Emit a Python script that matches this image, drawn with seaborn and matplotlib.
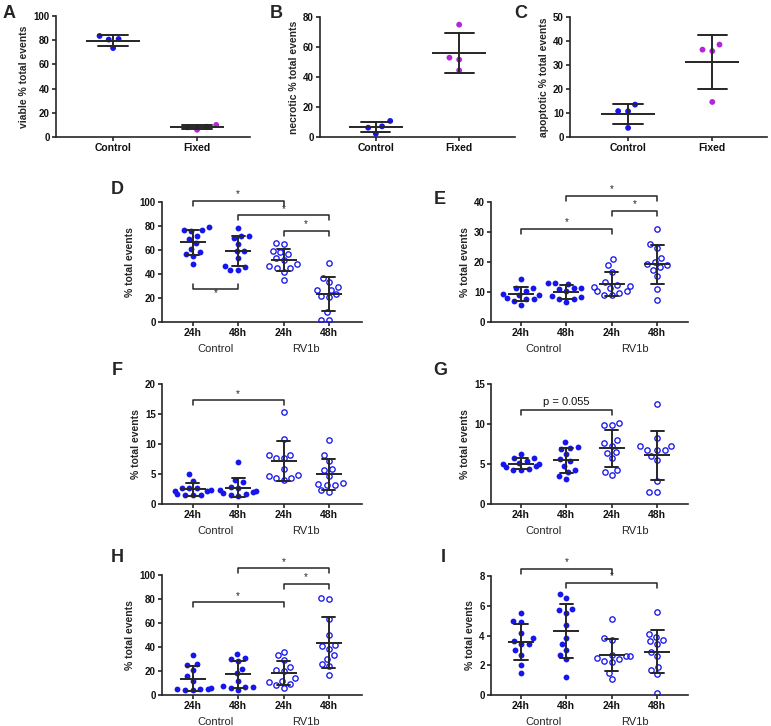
import numpy as np
import pandas as pd
import matplotlib
matplotlib.use("Agg")
import matplotlib.pyplot as plt
import matplotlib.transforms as mtransforms
from matplotlib.path import Path
import seaborn as sns

sns.set_theme(style="ticks")
plt.rcParams['font.family'] = ['Liberation Sans', 'DejaVu Sans']

W, H = 771, 726
BLUE = '#1515ee'
MAGENTA = '#b424d8'
DARK = '#262626'
CLEAR = (0, 0, 0, 0)

# ---------------- data ----------------
top_groups = ['Control', 'Fixed']
viable_control = [83.5, 80.5, 81.0, 73.5]
viable_fixed = [10.0, 6.0, 8.5, 8.0]
necrotic_control = [10.7, 7.1, 6.2, 2.2]
necrotic_fixed = [74.9, 52.9, 51.6, 44.4]
apoptotic_control = [13.5, 10.8, 10.7, 3.8]
apoptotic_fixed = [38.5, 36.4, 35.8, 14.6]

time_groups = ['Control 24h', 'Control 48h', 'RV1b 24h', 'RV1b 48h']
time_ticks = ['24h', '48h', '24h', '48h']

d_ctrl24 = [79, 77, 77, 76, 72, 69, 66, 61, 58, 57, 55, 48]
d_ctrl48 = [78, 72, 72, 70, 65, 59, 59, 53, 47, 46, 43, 43]
d_rv24 = [66, 65, 59, 58, 57, 53, 52, 48, 47, 45, 45, 42, 35]
d_rv48 = [49, 37, 33, 29, 27, 27, 23, 22, 21, 8, 2, 2]

e_ctrl24 = [14.3, 11.4, 11.2, 10.2, 9.2, 9.0, 9.0, 8.1, 7.8, 7.7, 6.9, 5.8]
e_ctrl48 = [13.1, 13.1, 12.8, 11.4, 11.2, 11.0, 10.4, 8.5, 8.3, 7.6, 7.5, 6.7]
e_rv24 = [21.0, 19.0, 16.8, 13.2, 12.2, 11.9, 11.5, 11.3, 10.3, 10.3, 9.6, 9.0, 8.9]
e_rv48 = [30.9, 26.0, 24.8, 21.3, 20.0, 19.2, 19.0, 18.2, 17.4, 15.4, 10.9, 7.3]

f_ctrl24 = [5.0, 3.9, 2.7, 2.6, 2.6, 2.3, 2.2, 2.1, 1.6, 1.5, 1.5, 1.5]
f_ctrl48 = [7.0, 4.0, 3.6, 2.9, 2.6, 2.4, 2.2, 2.0, 1.8, 1.6, 1.5, 1.3]
f_rv24 = [15.3, 10.8, 8.2, 8.2, 7.6, 7.6, 5.9, 4.8, 4.7, 4.4, 4.3, 4.0]
f_rv48 = [10.7, 8.1, 7.1, 5.8, 5.6, 4.6, 3.5, 3.4, 3.2, 3.2, 2.3, 2.0]

g_ctrl24 = [6.3, 5.8, 5.8, 5.4, 5.1, 5.0, 5.0, 4.7, 4.6, 4.4, 4.2, 4.3]
g_ctrl48 = [7.7, 7.1, 7.0, 6.9, 6.2, 5.6, 5.4, 4.8, 4.3, 4.0, 3.5, 3.1]
g_rv24 = [10.1, 9.9, 9.9, 8.0, 7.6, 7.3, 6.5, 6.4, 5.7, 4.3, 4.0, 3.6]
g_rv48 = [12.5, 8.3, 7.3, 7.2, 6.8, 6.7, 6.7, 6.0, 5.5, 2.9, 1.5, 1.5]

h_ctrl24 = [33, 26, 25, 21, 16, 12, 6, 5, 5, 4.5, 4, 5]
h_ctrl48 = [34, 31, 30, 28, 22, 18, 12, 7.5, 7, 6.5, 5.5, 4.5]
h_rv24 = [36, 33, 29, 23, 21, 20, 14, 12, 11, 9, 8, 6]
h_rv48 = [81, 80, 63, 50, 42, 41, 38, 33, 30, 26, 24, 17]

i_ctrl24 = [5.5, 5.0, 4.9, 4.2, 3.8, 3.6, 3.4, 3.4, 3.0, 2.7, 2.0, 1.5]
i_ctrl48 = [6.8, 6.5, 5.8, 5.7, 5.5, 4.7, 3.8, 3.4, 3.0, 2.7, 2.4, 1.2]
i_rv24 = [5.1, 3.8, 3.7, 2.7, 2.6, 2.6, 2.5, 2.4, 2.3, 2.2, 1.5, 1.05]
i_rv48 = [5.6, 4.1, 3.9, 3.7, 3.6, 3.4, 2.9, 2.6, 1.9, 1.7, 1.4, 0.15]

# significance brackets: (from group, to group, level, label, flipped)
d_brackets = [(0, 2, 101, '*', False), (1, 3, 89, '*', False),
              (2, 3, 76, '*', False), (0, 1, 27.8, '*', True)]
e_brackets = [(1, 3, 42.1, '*', False), (2, 3, 37.1, '*', False), (0, 2, 31.0, '*', False)]
f_brackets = [(0, 2, 17.3, '*', False)]
g_brackets = [(0, 2, 11.8, 'p = 0.055', False)]
h_brackets = [(1, 3, 105.6, '*', False), (2, 3, 92.5, '*', False), (0, 2, 77.2, '*', False)]
i_brackets = [(0, 2, 8.5, '*', False), (1, 3, 7.55, '*', False)]

# open-circle marker as a filled ring, so the swarm spacing can be widened
# with an invisible edge
RING = Path.make_compound_path(
    Path.unit_circle(),
    mtransforms.Affine2D().scale(0.6, -0.6).transform_path(Path.unit_circle()))

DOT = 4.2        # filled dot size (pt)
RING_SIZE = 4.8  # open circle outer size (pt)
SPREAD = 5.3     # swarm spacing (pt)

fig = plt.figure(figsize=(W / 100, H / 100), dpi=100)


def px_rect(left, top, right, bottom):
    return [left / W, 1 - bottom / H, (right - left) / W, (bottom - top) / H]


def long_df(groups, values):
    return pd.DataFrame({'group': np.repeat(groups, [len(v) for v in values]),
                         'value': np.concatenate(values)})


def style_axis(ax, ylim, yticks, xlim, ticklabels):
    ax.set_ylim(*ylim)
    ax.set_yticks(yticks)
    ax.set_xlim(*xlim)
    ax.set_xticks(range(len(ticklabels)))
    ax.set_xticklabels(ticklabels, fontweight='bold', fontsize=7.5)
    for lbl in ax.get_yticklabels():
        lbl.set_fontweight('bold')
        lbl.set_fontsize(7)
    sns.despine(ax=ax)
    for s in ['left', 'bottom']:
        ax.spines[s].set_linewidth(1.2)
        ax.spines[s].set_color(DARK)
    ax.tick_params(width=1.2, length=3, color=DARK, labelcolor='#111111', pad=1.5)
    ax.set_xlabel('')
    ax.grid(False)


def mean_sd(ax, df, order, width, capsize):
    sns.pointplot(data=df, x='group', y='value', order=order, errorbar='sd',
                  color=DARK, markers='_', markersize=width, markeredgewidth=1.4,
                  linestyle='none', capsize=capsize,
                  err_kws={'linewidth': 1.4, 'zorder': 5}, zorder=5, ax=ax)


def top_panel(rect, letter, lpos, control, fixed, ylabel, ylim, yticks, xlim):
    ax = fig.add_axes(px_rect(*rect))
    df = long_df(top_groups, [control, fixed])
    sns.swarmplot(data=df, x='group', y='value', order=top_groups, hue='group',
                  palette=[BLUE, MAGENTA], size=DOT, linewidth=SPREAD + 1.5 - DOT,
                  edgecolor=CLEAR, legend=False, ax=ax, zorder=3)
    mean_sd(ax, df, top_groups, 39, 0.35)
    style_axis(ax, ylim, yticks, xlim, top_groups)
    ax.set_ylabel(ylabel, fontweight='bold', fontsize=7.5, labelpad=3)
    fig.text(lpos[0] / W, 1 - lpos[1] / H, letter, fontsize=13, fontweight='bold',
             ha='center', va='center')
    return ax


def time_panel(rect, letter, lpos, series, ylim, yticks, xlim, brackets):
    ax = fig.add_axes(px_rect(*rect))
    df = long_df(time_groups, series)
    ctrl = df[df['group'].str.startswith('Control')]
    rv = df[df['group'].str.startswith('RV1b')]
    sns.swarmplot(data=ctrl, x='group', y='value', order=time_groups, color=BLUE,
                  size=DOT, linewidth=SPREAD - DOT, edgecolor=CLEAR, ax=ax, zorder=3)
    sns.swarmplot(data=rv, x='group', y='value', order=time_groups, color=BLUE,
                  marker=RING, size=RING_SIZE, linewidth=SPREAD - RING_SIZE,
                  edgecolor=CLEAR, ax=ax, zorder=3)
    mean_sd(ax, df, time_groups, 19, 0.29)
    style_axis(ax, ylim, yticks, xlim, time_ticks)
    ax.set_ylabel('% total events', fontweight='bold', fontsize=7.5, labelpad=3)

    trans = mtransforms.blended_transform_factory(ax.transData, ax.transAxes)
    ax.text(0.5, -0.225, 'Control', transform=trans, ha='center', va='center', fontsize=8)
    ax.text(2.5, -0.225, 'RV1b', transform=trans, ha='center', va='center', fontsize=8)

    # pixel -> data conversion for bracket drop and label offsets
    unit = (ylim[1] - ylim[0]) / (rect[3] - rect[1])
    for x1, x2, level, label, flipped in brackets:
        drop = 5 * unit * (-1 if flipped else 1)
        ax.plot([x1, x1, x2, x2], [level - drop, level, level, level - drop],
                color=DARK, linewidth=1.1, clip_on=False, zorder=6)
        if label == '*':
            ty = level - 9 * unit if flipped else level + 1.5 * unit
            ax.text((x1 + x2) / 2, ty, '*', ha='center', va='bottom', fontsize=7,
                    color=DARK, clip_on=False)
        else:
            ax.text((x1 + x2) / 2, level + 3 * unit, label, ha='center', va='bottom',
                    fontsize=8, color='#111111', clip_on=False)
    fig.text(lpos[0] / W, 1 - lpos[1] / H, letter, fontsize=13, fontweight='bold',
             ha='center', va='center')
    return ax


# ---------------- top row ----------------
top_panel((56, 16, 250, 137), 'A', (9, 13), viable_control, viable_fixed,
          'viable % total events', (0, 100), range(0, 101, 20), (-0.68, 1.63))
top_panel((320, 17, 515, 137), 'B', (276, 13), necrotic_control, necrotic_fixed,
          'necrotic % total events', (0, 80), range(0, 81, 20), (-0.67, 1.67))
top_panel((570, 17, 767, 137), 'C', (521, 13), apoptotic_control, apoptotic_fixed,
          'apoptotic % total events', (0, 50), range(0, 51, 10), (-0.69, 1.65))

# ---------------- time course panels ----------------
time_panel((162, 202, 362, 322), 'D', (117, 190), [d_ctrl24, d_ctrl48, d_rv24, d_rv48],
           (0, 100), range(0, 101, 20), (-0.68, 3.73), d_brackets)
time_panel((491, 202, 688, 322), 'E', (440, 199), [e_ctrl24, e_ctrl48, e_rv24, e_rv48],
           (0, 40), range(0, 41, 10), (-0.66, 3.68), e_brackets)
time_panel((162, 384, 362, 504), 'F', (117, 370), [f_ctrl24, f_ctrl48, f_rv24, f_rv48],
           (0, 20), range(0, 21, 5), (-0.68, 3.73), f_brackets)
time_panel((491, 384, 688, 504), 'G', (440, 370), [g_ctrl24, g_ctrl48, g_rv24, g_rv48],
           (0, 15), range(0, 16, 5), (-0.66, 3.68), g_brackets)
time_panel((162, 575, 362, 695), 'H', (117, 558), [h_ctrl24, h_ctrl48, h_rv24, h_rv48],
           (0, 100), range(0, 101, 20), (-0.68, 3.73), h_brackets)
time_panel((491, 576, 688, 695), 'I', (443, 558), [i_ctrl24, i_ctrl48, i_rv24, i_rv48],
           (0, 8), range(0, 9, 2), (-0.66, 3.68), i_brackets)

fig.savefig('out.png', dpi=100, facecolor='white')
